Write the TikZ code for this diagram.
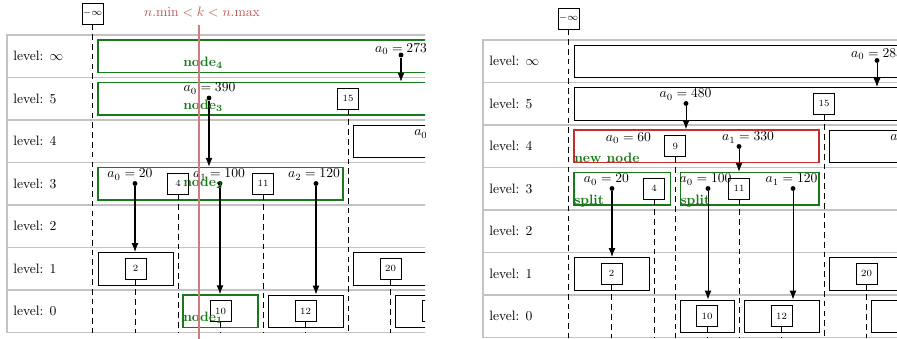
\documentclass[tikz,border=0pt]{standalone}
\usetikzlibrary{arrows.meta,fit}
\definecolor{dgreen}{rgb}{0.1,0.47,0.1}
\definecolor{nred}{RGB}{200,45,45}
\definecolor{mtext}{RGB}{185,85,85}
\definecolor{mline}{RGB}{205,125,125}
\definecolor{rowgray}{RGB}{195,195,195}
\tikzset{
  rowbox/.style={draw=rowgray, line width=1.1pt},
  lvl/.style={anchor=west, inner sep=0pt},
  keybox/.style={draw, line width=0.6pt, minimum size=15.4pt, inner sep=0pt, font=\scriptsize},
  nbox/.style={draw, line width=0.65pt, inner sep=0pt},
  gbox/.style={draw=dgreen, line width=1.1pt, inner sep=0pt},
  rbox/.style={draw=nred, line width=1.1pt, inner sep=0pt},
  kline/.style={dash pattern=on 4.2pt off 3pt, line width=0.65pt},
  ptr/.style={-{Latex[length=6.5pt,width=5pt]}, line width=0.75pt},
  pdot/.style={circle, fill, inner sep=0pt, minimum size=3.6pt},
  plabel/.style={inner sep=0pt, anchor=base},
  gname/.style={text=dgreen, font=\bfseries, inner sep=0pt, anchor=base west},
}
\begin{document}
\begin{tikzpicture}[x=0.735pt, y=-0.735pt]
\useasboundingbox (0,0) rectangle (897,339);

% ================= LEFT PANEL =================
\begin{scope}
\clip (0,0) rectangle (425,339);
\foreach \i in {0,...,6} \draw[rowbox] (7,{35+42.5*\i}) rectangle (445,{77.5+42.5*\i});
\node[lvl] (Llinf) at (13,56.25) {level: $\infty$};
\node[lvl] (Ll5) at (13,98.75) {level: 5};
\node[lvl] (Ll4) at (13,141.25) {level: 4};
\node[lvl] (Ll3) at (13,183.75) {level: 3};
\node[lvl] (Ll2) at (13,226.25) {level: 2};
\node[lvl] (Ll1) at (13,268.75) {level: 1};
\node[lvl] (Ll0) at (13,311.25) {level: 0};
\coordinate (Lbot) at (0,332.5);
% node boxes
\node[gbox, fit={(98,40)(445,72.5)}] (Ln4) {};
\node[gbox, fit={(98,82.5)(445,115)}] (Ln3) {};
\node[nbox, fit={(353,125)(445,157.5)}] (Lb4) {};
\node[gbox, fit={(98,167.5)(343,200)}] (Ln2) {};
\node[nbox, fit={(98,252.5)(173,285)}] (Lb1a) {};
\node[nbox, fit={(353,252.5)(445,285)}] (Lb1b) {};
\node[gbox, fit={(183,295)(258,327.5)}] (Ln1) {};
\node[nbox, fit={(268,295)(343,327.5)}] (Lb0b) {};
\node[nbox, fit={(395.5,295)(445,327.5)}] (Lb0c) {};
% keys
\node[keybox] (Lkinf) at (92.5,13.5) {$-\infty$};
\node[keybox] (Lk2) at (135.5,268.75) {2};
\node[keybox] (Lk4) at (178,183.75) {4};
\node[keybox] (Lk10) at (220.5,311.25) {10};
\node[keybox] (Lk11) at (263,183.75) {11};
\node[keybox] (Lk12) at (305.5,311.25) {12};
\node[keybox] (Lk15) at (348,98.75) {15};
\node[keybox] (Lk20) at (390.5,268.75) {20};
\node[keybox] (Lkx) at (433,311.25) {};
\foreach \k in {Lkinf,Lk2,Lk4,Lk10,Lk11,Lk12,Lk15,Lk20,Lkx}
  \draw[kline] (\k.south) -- (\k.south |- Lbot);
% texts in nodes
\node[plabel] (Lt4) at (401,52.5) {$a_0 = 273$};
\node[plabel] (Lt3) at (209.5,92) {$a_0 = 390$};
\node[plabel, anchor=base west] (Lt4b) at (414,136) {$a_0$};
\node[plabel] (Lt2a) at (130,178) {$a_0 = 20$};
\node[plabel] (Lt2b) at (219,178) {$a_1 = 100$};
\node[plabel] (Lt2c) at (314,178) {$a_2 = 120$};
% pointers
\node[pdot] (Lp4) at (401,55) {};
\node[pdot] (Lp3) at (209,98) {};
\node[pdot] (Lp2a) at (135,183.5) {};
\node[pdot] (Lp2b) at (220,183.5) {};
\node[pdot] (Lp2c) at (316,183.5) {};
\draw[ptr] (Lp4) -- (Lp4 |- Ln3.north);
\draw[ptr] (Lp3) -- (Lp3 |- Ln2.north);
\draw[ptr] (Lp2a) -- (Lp2a |- Lb1a.north);
\draw[ptr] (Lp2b) -- (Lp2b |- Ln1.north);
\draw[ptr] (Lp2c) -- (Lp2c |- Lb0b.north);
% names
\node[gname] (Lname4) at (183,66.5) {node$_{\mathbf{4}}$};
\node[gname] (Lname3) at (183,109.5) {node$_{\mathbf{3}}$};
\node[gname] (Lname2) at (183,186.5) {node$_{\mathbf{2}}$};
\node[gname] (Lname1) at (183,321.5) {node$_{\mathbf{1}}$};
% condition
\node[text=mtext, inner sep=0pt] (Lcond) at (202,12) {$n.\mathrm{min} < k < n.\mathrm{max}$};
\coordinate (Lrt) at (199,25);
\coordinate (Lrb) at (199,339);
\draw[mline, line width=0.8pt] (Lrt) -- (Lrb);
\end{scope}

% ================= RIGHT PANEL =================
\begin{scope}[shift={(476,5)}]
\clip (0,-5) rectangle (421,334);
\foreach \i in {0,...,6} \draw[rowbox] (7,{35+42.5*\i}) rectangle (445,{77.5+42.5*\i});
\node[lvl] (Rlinf) at (13,56.25) {level: $\infty$};
\node[lvl] (Rl5) at (13,98.75) {level: 5};
\node[lvl] (Rl4) at (13,141.25) {level: 4};
\node[lvl] (Rl3) at (13,183.75) {level: 3};
\node[lvl] (Rl2) at (13,226.25) {level: 2};
\node[lvl] (Rl1) at (13,268.75) {level: 1};
\node[lvl] (Rl0) at (13,311.25) {level: 0};
\coordinate (Rbot) at (0,332.5);
% node boxes
\node[nbox, fit={(98,40)(445,72.5)}] (Rbinf) {};
\node[nbox, fit={(98,82.5)(445,115)}] (Rb5) {};
\node[rbox, fit={(98,125)(343,157.5)}] (Rnew) {};
\node[nbox, fit={(353,125)(445,157.5)}] (Rb4) {};
\node[gbox, fit={(98,167.5)(194.25,200)}] (RsA) {};
\node[gbox, fit={(204.25,167.5)(343,200)}] (RsB) {};
\node[nbox, fit={(98,252.5)(173,285)}] (Rb1a) {};
\node[nbox, fit={(353,252.5)(445,285)}] (Rb1b) {};
\node[nbox, fit={(204.25,295)(258,327.5)}] (Rb0a) {};
\node[nbox, fit={(268,295)(343,327.5)}] (Rb0b) {};
\node[nbox, fit={(395.5,295)(445,327.5)}] (Rb0c) {};
% keys
\node[keybox] (Rkinf) at (92.5,13.5) {$-\infty$};
\node[keybox] (Rk2) at (135.5,268.75) {2};
\node[keybox] (Rk4) at (178,183.75) {4};
\node[keybox] (Rk9) at (199.25,141.25) {9};
\node[keybox] (Rk10) at (231,311.25) {10};
\node[keybox] (Rk11) at (263,183.75) {11};
\node[keybox] (Rk12) at (305.5,311.25) {12};
\node[keybox] (Rk15) at (348,98.75) {15};
\node[keybox] (Rk20) at (390.5,268.75) {20};
\foreach \k in {Rkinf,Rk2,Rk4,Rk9,Rk10,Rk11,Rk12,Rk15,Rk20}
  \draw[kline] (\k.south) -- (\k.south |- Rbot);
% texts
\node[plabel] (Rtinf) at (401,52.5) {$a_0 = 283$};
\node[plabel] (Rt5) at (209.5,93) {$a_0 = 480$};
\node[plabel] (Rt4a) at (152.5,136.5) {$a_0 = 60$};
\node[plabel] (Rt4b) at (272,136) {$a_1 = 330$};
\node[plabel, anchor=base west] (Rt4c) at (414,136) {$a_0$};
\node[plabel] (Rt3a) at (130.5,178) {$a_0 = 20$};
\node[plabel] (Rt3b) at (229.5,178) {$a_0 = 100$};
\node[plabel] (Rt3c) at (315.5,178) {$a_1 = 120$};
% pointers
\node[pdot] (Rpinf) at (401,55.5) {};
\node[pdot] (Rp5) at (210,98.5) {};
\node[pdot] (Rp4) at (263,141.5) {};
\node[pdot] (Rp3a) at (136,183.5) {};
\node[pdot] (Rp3b) at (232,183.5) {};
\node[pdot] (Rp3c) at (317,183.5) {};
\draw[ptr] (Rpinf) -- (Rpinf |- Rb5.north);
\draw[ptr] (Rp5) -- (Rp5 |- Rnew.north);
\draw[ptr] (Rp4) -- (Rp4 |- RsB.north);
\draw[ptr] (Rp3a) -- (Rp3a |- Rb1a.north);
\draw[ptr] (Rp3b) -- (Rp3b |- Rb0a.north);
\draw[ptr] (Rp3c) -- (Rp3c |- Rb0b.north);
% names
\node[gname] (Rnewname) at (98,157.5) {new node};
\node[gname] (RsAname) at (98,199.5) {split};
\node[gname] (RsBname) at (204.25,199.5) {split};
\end{scope}
\end{tikzpicture}
\end{document}
